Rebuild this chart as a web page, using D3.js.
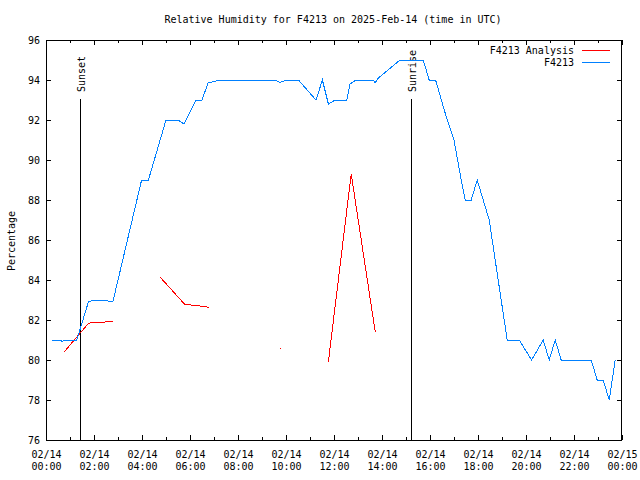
<!DOCTYPE html>
<html>
<head>
<meta charset="utf-8">
<script src="https://cdn.jsdelivr.net/npm/d3@7"></script>
<style>
  body { margin: 0; background: #fff; }
  svg { display: block; }
  text { font-family: "DejaVu Sans Mono", "Liberation Mono", monospace; font-size: 10px; fill: #000; }
</style>
</head>
<body>
<script>
// ---------- data ----------
const title = "Relative Humidity for F4213 on 2025-Feb-14 (time in UTC)";
const yLabel = "Percentage";
const seriesNames = ["F4213 Analysis", "F4213"];

const obsTimes = ["00:15","00:37","00:40","00:52","01:17","01:46","01:58","02:23","02:47","03:59",
  "04:16","05:00","05:30","05:45","06:15","06:30","06:45","07:15","09:32","09:45",
  "10:00","10:31","11:15","11:31","11:46","12:03","12:32","12:40","12:55","13:37",
  "13:43","13:51","14:45","15:43","15:58","16:14","16:43","17:00","17:18","17:28",
  "17:43","17:58","18:28","19:13","19:43","20:14","20:43","20:58","21:13","21:28",
  "22:43","22:58","23:13","23:28","23:43"];
const obsValues = [81,81,80.93,81,81,82.9,83,83,82.9,89,
  89,92,92,91.8,93,93,93.85,94,94,93.87,
  94,94,93,94,92.8,93,93,93.8,94,94,
  93.87,94.1,95,95,94,94,92,91,89,88,
  88,89,87,81,81,80,81,80,81,80,
  80,79,79,78,80];

// null values break the analysis line
const anaTimes = ["00:46","01:46","01:58","02:25","02:32","02:47","03:30",
  "04:45","05:47","06:12","06:33","06:47","08:00",
  "09:45","09:48","10:30",
  "11:46","12:43","13:43"];
const anaValues = [80.42,81.83,81.88,81.88,81.93,81.93,null,
  84.15,82.78,82.73,82.68,82.63,null,
  80.58,80.58,null,
  79.92,89.3,81.42];

const sunEvents = [{label: "Sunset", time: "01:25"}, {label: "Sunrise", time: "15:12"}];

const yTicks = [76,78,80,82,84,86,88,90,92,94,96];
const xMajorTimes = ["00:00","02:00","04:00","06:00","08:00","10:00","12:00","14:00","16:00","18:00","20:00","22:00","24:00"];
const xMinorTimes = ["01:00","03:00","05:00","07:00","09:00","11:00","13:00","15:00","17:00","19:00","21:00","23:00"];
const xTickDates = ["02/14","02/14","02/14","02/14","02/14","02/14","02/14","02/14","02/14","02/14","02/14","02/14","02/15"];
const xTickClock = ["00:00","02:00","04:00","06:00","08:00","10:00","12:00","14:00","16:00","18:00","20:00","22:00","00:00"];

// ---------- layout ----------
const W = 640, H = 480;
const L = 46, R = 622, T = 40, B = 440;
const toMin = s => { const [h, m] = s.split(":").map(Number); return h * 60 + m; };

const x = d3.scaleLinear().domain([0, 1440]).range([L, R]);
const y = d3.scaleLinear().domain([76, 96]).range([B, T]);

const svg = d3.select("body").append("svg").attr("width", W).attr("height", H);
svg.append("rect").attr("width", W).attr("height", H).attr("fill", "#fff");

// title
svg.append("text").attr("x", 333).attr("y", 23).attr("text-anchor", "middle").text(title);
// y label
svg.append("text").attr("transform", "translate(15,241) rotate(-90)").attr("text-anchor", "middle").text(yLabel);

// axes
const majVals = xMajorTimes.map(toMin);
const minVals = xMinorTimes.map(toMin);

const gx = svg.append("g").attr("transform", `translate(0,${B})`)
  .call(d3.axisBottom(x).tickValues(majVals).tickSizeInner(-5).tickSizeOuter(0).tickPadding(8).tickFormat(""));
gx.selectAll(".tick text").each(function(d, i) {
  const t = d3.select(this).attr("y", null).attr("dy", null);
  t.append("tspan").attr("x", 0).attr("y", 18).text(xTickDates[i]);
  t.append("tspan").attr("x", 0).attr("y", 30).text(xTickClock[i]);
});
svg.append("g").attr("transform", `translate(0,${B})`)
  .call(d3.axisBottom(x).tickValues(minVals).tickSizeInner(-3).tickSizeOuter(0).tickFormat(""));
svg.append("g").attr("transform", `translate(0,${T})`)
  .call(d3.axisTop(x).tickValues(majVals).tickSizeInner(-5).tickSizeOuter(0).tickFormat(""));
svg.append("g").attr("transform", `translate(0,${T})`)
  .call(d3.axisTop(x).tickValues(minVals).tickSizeInner(-3).tickSizeOuter(0).tickFormat(""));

svg.append("g").attr("transform", `translate(${L},0)`)
  .call(d3.axisLeft(y).tickValues(yTicks).tickSizeInner(-5).tickSizeOuter(0).tickPadding(6).tickFormat(d3.format("d")));
svg.append("g").attr("transform", `translate(${R},0)`)
  .call(d3.axisRight(y).tickValues(yTicks).tickSizeInner(-5).tickSizeOuter(0).tickFormat(""));

svg.selectAll(".domain").remove();
svg.selectAll(".tick line").attr("stroke", "#000").attr("shape-rendering", "crispEdges");
svg.selectAll(".tick text").style("font-family", "DejaVu Sans Mono, monospace").style("font-size", "10px").attr("fill", "#000");

// frame
svg.append("rect").attr("x", L + 0.5).attr("y", T + 0.5).attr("width", R - L - 1).attr("height", B - T)
  .attr("fill", "none").attr("stroke", "#000").attr("shape-rendering", "crispEdges");

// sun events
sunEvents.forEach(e => {
  const xp = Math.round(x(toMin(e.time))) + 0.5;
  svg.append("line").attr("x1", xp).attr("x2", xp).attr("y1", B).attr("y2", 99)
    .attr("stroke", "#000").attr("shape-rendering", "crispEdges");
  svg.append("text").attr("transform", `translate(${xp + 4},92) rotate(-90)`).text(e.label);
});

// data lines
const line = d3.line().defined(d => d.v != null).x(d => x(d.t)).y(d => y(d.v));
const obs = obsTimes.map((t, i) => ({t: toMin(t), v: obsValues[i]}));
const ana = anaTimes.map((t, i) => ({t: toMin(t), v: anaValues[i]}));

svg.append("path").datum(ana).attr("d", line).attr("fill", "none").attr("stroke", "#ff0000")
  .attr("stroke-width", 1).attr("shape-rendering", "crispEdges");
svg.append("path").datum(obs).attr("d", line).attr("fill", "none").attr("stroke", "#0080ff")
  .attr("stroke-width", 1).attr("shape-rendering", "crispEdges");

// legend
const legColors = ["#ff0000", "#0080ff"];
seriesNames.forEach((n, i) => {
  const yy = 50 + i * 12;
  svg.append("text").attr("x", 574).attr("y", yy + 4).attr("text-anchor", "end").text(n);
  svg.append("line").attr("x1", 582).attr("x2", 610).attr("y1", yy + 0.5).attr("y2", yy + 0.5)
    .attr("stroke", legColors[i]).attr("shape-rendering", "crispEdges");
});
</script>
</body>
</html>
